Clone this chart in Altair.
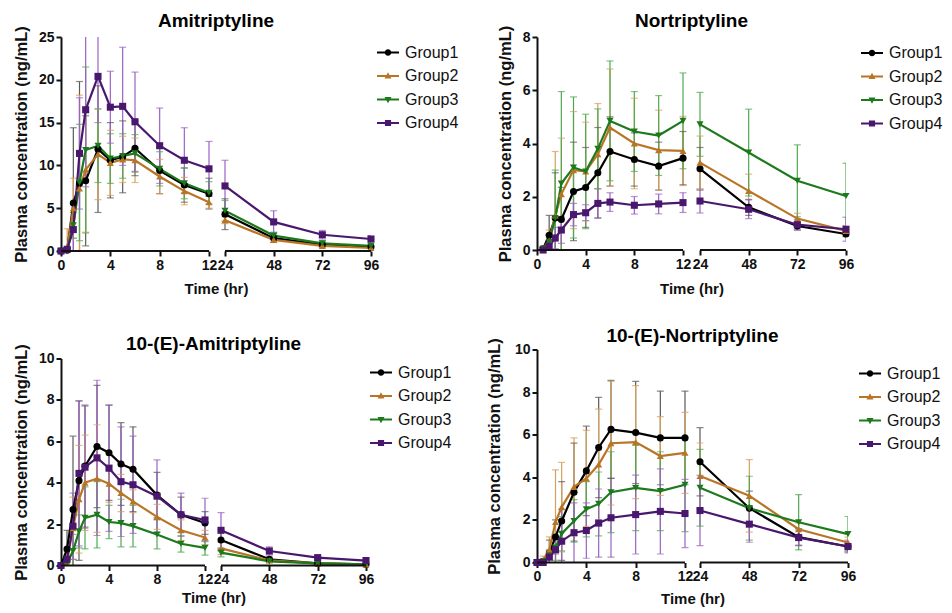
import altair as alt
import pandas as pd

GROUPS = ["Group1", "Group2", "Group3", "Group4"]
LINE_COLORS = ["#000000", "#b97526", "#1c7a1c", "#4a176e"]
BAR_COLORS = ["#5a5a5a", "#d6a05a", "#4fa84f", "#9b62c4"]
MARKERS = ["circle", "triangle-up", "triangle-down", "square"]
BAR = "M-1,-0.085L1,-0.085L1,0.085L-1,0.085Z"
LEGEND_SYMBOLS = [
    BAR + "M-0.3,0A0.3,0.3 0 1,1 0.3,0A0.3,0.3 0 1,1 -0.3,0Z",
    BAR + "M0,-0.34L0.32,0.22L-0.32,0.22Z",
    BAR + "M0,0.34L-0.32,-0.22L0.32,-0.22Z",
    BAR + "M-0.28,-0.28L0.28,-0.28L0.28,0.28L-0.28,0.28Z",
]

X_TICKS = [0, 4, 8, 12, 24, 48, 72, 96]
TIME_FULL = [0, 0.5, 1, 1.5, 2, 3, 4, 5, 6, 8, 10, 12, 24, 48, 72, 96]
TIME_NOR = [0.5, 1, 1.5, 2, 3, 4, 5, 6, 8, 10, 12, 24, 48, 72, 96]

# Amitriptyline
AMI_MEAN = [
    [0, 0.1, 5.6, 7.9, 8.2, 11.9, 10.6, 11.0, 12.0, 9.4, 7.7, 6.7, 4.3, 1.5, 0.75, 0.5],
    [0, 0.2, 5.0, 7.3, 9.5, 11.3, 10.3, 10.7, 10.6, 8.7, 7.0, 5.7, 3.6, 1.3, 0.6, 0.35],
    [0, 0.1, 3.0, 8.0, 11.8, 12.3, 10.8, 11.1, 11.4, 9.6, 7.9, 6.8, 4.7, 1.8, 0.9, 0.6],
    [0, 0.2, 2.5, 11.4, 16.5, 20.4, 16.8, 16.9, 15.1, 12.3, 10.6, 9.6, 7.6, 3.4, 1.9, 1.4],
]
AMI_SD = [
    [0, 0.3, 8.8, 11.9, 7.6, 7.4, 4.4, 4.2, 3.2, 2.7, 2.0, 1.8, 1.8, 0.5, 0.3, 0.2],
    [0, 2.4, 3.5, 10.9, 7.3, 5.3, 3.8, 2.7, 2.6, 2.0, 1.6, 0.7, 0.4, 0.3, 0.2, 0.1],
    [0, 0.2, 1.5, 6.8, 9.7, 4.3, 2.9, 2.6, 2.2, 2.0, 1.8, 1.3, 1.2, 0.4, 0.3, 0.2],
    [0, 0.2, 3.0, 6.5, 9.0, 5.4, 4.2, 6.9, 5.8, 4.4, 3.8, 3.2, 3.0, 1.3, 0.5, 0.4],
]

# Nortriptyline
NOR_MEAN = [
    [0.05, 0.55, 1.2, 1.15, 2.2, 2.35, 2.9, 3.7, 3.4, 3.15, 3.45, 3.05, 1.6, 0.9, 0.6],
    [0.05, 0.35, 1.3, 2.1, 3.0, 2.95, 3.6, 4.6, 4.0, 3.75, 3.72, 3.28, 2.22, 1.18, 0.72],
    [0.05, 0.3, 1.2, 2.5, 3.1, 2.95, 3.8, 4.85, 4.45, 4.3, 4.85, 4.72, 3.66, 2.6, 2.03],
    [0.0, 0.15, 0.45, 0.75, 1.33, 1.4, 1.75, 1.8, 1.68, 1.73, 1.78, 1.84, 1.53, 0.95, 0.78],
]
NOR_SD = [
    [0.05, 0.75, 1.7, 1.2, 1.85, 1.5, 1.7, 1.3, 1.0, 0.9, 1.0, 0.8, 0.3, 0.15, 0.1],
    [0.05, 0.4, 2.4, 2.1, 2.2, 1.85, 1.9, 2.2, 1.7, 1.5, 1.3, 1.0, 0.63, 0.2, 0.2],
    [0.05, 0.3, 1.8, 3.45, 2.65, 2.15, 1.5, 2.25, 1.5, 1.5, 1.8, 1.2, 1.63, 1.35, 1.23],
    [0.0, 0.2, 0.4, 0.5, 0.42, 0.3, 0.55, 0.35, 0.33, 0.37, 0.37, 0.45, 0.35, 0.2, 0.45],
]

# 10-(E)-Amitriptyline
EAMI_MEAN = [
    [0, 0.8, 2.7, 4.1, 4.8, 5.75, 5.45, 4.9, 4.65, 3.4, 2.45, 2.05, 1.23, 0.3, 0.1, 0.05],
    [0, 0.2, 1.8, 3.2, 4.0, 4.2, 3.95, 3.5, 3.1, 2.35, 1.7, 1.35, 0.83, 0.25, 0.1, 0.05],
    [0, 0.1, 0.7, 1.65, 2.3, 2.45, 2.1, 2.05, 1.9, 1.5, 1.05, 0.85, 0.62, 0.2, 0.1, 0.05],
    [0, 0.3, 1.9, 4.45, 4.75, 5.2, 4.7, 4.05, 3.9, 3.35, 2.45, 2.2, 1.7, 0.7, 0.38, 0.24],
]
EAMI_SD = [
    [0, 0.9, 3.55, 3.85, 2.95, 2.95, 2.3, 2.0, 2.05, 1.1, 0.85, 0.55, 0.5, 0.1, 0.05, 0.02],
    [0, 0.3, 1.5, 2.6, 2.3, 2.6, 0.9, 0.9, 0.55, 0.6, 0.5, 0.35, 0.3, 0.1, 0.05, 0.02],
    [0, 0.1, 0.8, 0.8, 1.5, 1.6, 0.8, 1.15, 1.0, 0.7, 0.4, 0.35, 0.2, 0.05, 0.03, 0.02],
    [0, 0.4, 1.6, 3.5, 2.95, 3.75, 3.05, 2.65, 2.35, 1.75, 1.05, 1.05, 0.85, 0.2, 0.08, 0.05],
]

# 10-(E)-Nortriptyline
ENOR_MEAN = [
    [0, 0.05, 0.45, 1.2, 1.95, 3.3, 4.3, 5.4, 6.25, 6.1, 5.85, 5.85, 4.73, 2.55, 1.19, 0.75],
    [0, 0.1, 0.6, 1.9, 2.6, 3.55, 3.95, 4.6, 5.6, 5.65, 5.0, 5.15, 4.06, 3.13, 1.56, 0.94],
    [0, 0.05, 0.3, 0.7, 1.35, 1.95, 2.5, 2.75, 3.3, 3.5, 3.35, 3.65, 3.51, 2.55, 1.89, 1.33],
    [0, 0.0, 0.25, 0.6, 1.0, 1.4, 1.5, 1.85, 2.1, 2.25, 2.4, 2.3, 2.44, 1.8, 1.17, 0.75],
]
ENOR_SD = [
    [0, 0.1, 0.6, 0.8, 1.85, 2.3, 2.1, 2.35, 2.3, 2.4, 2.2, 2.2, 1.6, 0.8, 0.4, 0.2],
    [0, 0.2, 0.6, 2.45, 2.1, 2.3, 2.25, 2.6, 2.9, 2.65, 1.85, 1.9, 1.55, 1.7, 0.3, 0.25],
    [0, 0.05, 0.3, 0.6, 0.8, 1.0, 1.3, 1.5, 1.9, 2.0, 1.85, 2.2, 1.8, 1.5, 1.3, 0.83],
    [0, 0.05, 0.3, 0.6, 1.5, 1.4, 1.3, 1.6, 1.85, 1.85, 2.0, 1.6, 1.65, 0.85, 0.35, 0.3],
]

AXIS_SEGMENTS = pd.DataFrame({"a": [0, 24], "b": [12, 96]})

FONT = "Liberation Sans"


def panel(title, times, means, sds, ymax, ystep, width, xrange, height, lx, ly, toff, ytp, xtp):
    rows = []
    for g, m, s in zip(GROUPS, means, sds):
        for t, mv, sv in zip(times, m, s):
            rows.append({"t": t, "group": g, "mean": mv, "sd": sv,
                         "seg": "early" if t <= 12 else "late"})
    df = pd.DataFrame(rows)
    base = alt.Chart(df).transform_calculate(
        lo="datum.mean - datum.sd", hi="datum.mean + datum.sd"
    )
    xs = alt.Scale(domain=[0, 12, 24, 96], range=xrange, nice=False, zero=False)
    ys = alt.Scale(domain=[0, ymax], nice=False, zero=True)
    xaxis = alt.Axis(values=X_TICKS, title="Time (hr)", domain=False, labelOverlap=False,
                     labelFlush=False, format="d", titlePadding=xtp, labelPadding=2,
                     titleFontSize=15)
    yaxis = alt.Axis(values=list(range(0, ymax + 1, ystep)), title="Plasma concentration (ng/mL)",
                     labelFlush=False, labelOverlap=False, format="d", titlePadding=ytp,
                     labelPadding=2, titleFontSize=16.5)
    X = alt.X("t:Q", scale=xs, axis=xaxis)
    Y = alt.Y("mean:Q", scale=ys, axis=yaxis)
    line_scale = alt.Scale(domain=GROUPS, range=LINE_COLORS)
    bar_scale = alt.Scale(domain=GROUPS, range=BAR_COLORS)

    bars = base.mark_rule(strokeWidth=1.2, clip=True).encode(
        x=X, y=alt.Y("lo:Q", scale=ys, axis=yaxis), y2="hi:Q",
        color=alt.Color("group:N", scale=bar_scale, legend=None),
    )
    caps_hi = base.mark_tick(orient="horizontal", size=7, thickness=1.2, clip=True).encode(
        x=X, y=alt.Y("hi:Q", scale=ys, axis=yaxis),
        color=alt.Color("group:N", scale=bar_scale, legend=None),
    )
    caps_lo = base.mark_tick(orient="horizontal", size=7, thickness=1.2, clip=True).encode(
        x=X, y=alt.Y("lo:Q", scale=ys, axis=yaxis),
        color=alt.Color("group:N", scale=bar_scale, legend=None),
    )
    lines = base.mark_line(strokeWidth=2.2).encode(
        x=X, y=Y, detail="seg:N", order="t:Q",
        color=alt.Color("group:N", scale=line_scale, legend=None),
    )
    points = base.mark_point(filled=True, opacity=1, size=50).encode(
        x=X, y=Y,
        color=alt.Color("group:N", scale=line_scale, legend=None),
        shape=alt.Shape("group:N", scale=alt.Scale(domain=GROUPS, range=MARKERS), legend=None),
    )
    leg = alt.Legend(title=None, orient="none", legendX=lx, legendY=ly, symbolSize=484,
                     symbolStrokeWidth=0, labelFont=FONT, labelFontSize=16,
                     labelFontWeight="normal", labelColor="#111111", labelOffset=6,
                     rowPadding=4.5, padding=0)
    legend_layer = base.transform_filter("false").mark_point(filled=True, opacity=1).encode(
        x=X, y=Y,
        color=alt.Color("group:N", scale=line_scale, legend=leg),
        shape=alt.Shape("group:N", scale=alt.Scale(domain=GROUPS, range=LEGEND_SYMBOLS), legend=leg),
    )
    xline = alt.Chart(AXIS_SEGMENTS).mark_rule(strokeWidth=2, color="#111111").encode(
        x=alt.X("a:Q", scale=xs, axis=xaxis), x2="b:Q", y=alt.datum(0, scale=ys)
    )
    return alt.layer(bars, caps_hi, caps_lo, lines, points, xline, legend_layer).resolve_scale(
        color="independent", shape="independent"
    ).properties(
        width=width, height=height,
        title=alt.Title(title, fontSize=19, font=FONT, fontWeight="bold", offset=toff),
    )


p1 = panel("Amitriptyline", TIME_FULL, AMI_MEAN, AMI_SD, 25, 5, 310, [0, 148, 164, 310], 214,
           316, 4.5, -5.4, 9, 9.5)
p2 = panel("Nortriptyline", TIME_NOR, NOR_MEAN, NOR_SD, 8, 2, 309, [0, 146, 163, 309], 213,
           324, 5, -5.4, 9, 10.5)
p3 = panel("10-(E)-Amitriptyline", TIME_FULL, EAMI_MEAN, EAMI_SD, 10, 2, 305, [0, 144, 160, 305], 207,
           309, 3, -10.4, 9, 4)
p4 = panel("10-(E)-Nortriptyline", TIME_FULL, ENOR_MEAN, ENOR_SD, 10, 2, 311, [0, 148, 163, 311], 213,
           322, 13, -8.4, 12, 8)

col1 = alt.concat(p1, p3, columns=1, align="none", spacing=37.5).resolve_scale(
    color="independent", shape="independent")
col2 = alt.concat(p2, p4, columns=1, align="none", spacing=29.5).resolve_scale(
    color="independent", shape="independent")

chart = alt.hconcat(col1, col2, spacing=27).resolve_scale(
    color="independent", shape="independent"
).configure(
    padding={"left": 5, "top": 3, "right": 0, "bottom": 0},
).configure_view(stroke=None).configure_axis(
    labelFont=FONT, labelFontSize=14, labelFontWeight="bold", labelColor="#111111",
    titleFont=FONT, titleFontWeight="bold", titleColor="#111111",
    domainColor="#111111", domainWidth=2, tickColor="#111111", tickWidth=2, tickSize=5,
    grid=False,
)

chart.save("out.html", embed_options={"renderer": "svg", "actions": False})
